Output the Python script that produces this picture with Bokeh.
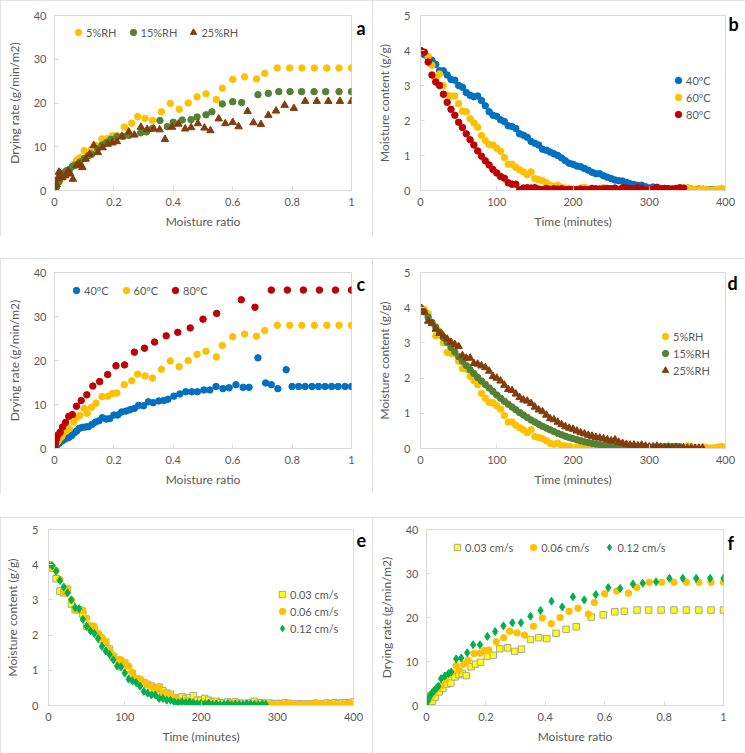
from bokeh.plotting import figure
from bokeh.layouts import column, row
from bokeh.models import Range1d, FixedTicker, Label, NumeralTickFormatter, Spacer
from bokeh.embed import file_html
from bokeh.resources import INLINE

# ---------------- data ----------------
# Drying rate vs moisture ratio
base_mr = [0.0, 0.003, 0.005, 0.01, 0.015, 0.02, 0.025, 0.03, 0.04, 0.045,
           0.05, 0.065, 0.075, 0.085, 0.10, 0.11, 0.125, 0.14, 0.16, 0.18,
           0.195, 0.21, 0.235, 0.26, 0.28, 0.305, 0.33, 0.36, 0.39, 0.42,
           0.45, 0.48, 0.51, 0.545, 0.565, 0.60, 0.64, 0.68, 0.708, 0.75,
           0.792, 0.833, 0.875, 0.917, 0.958, 1.0]
base_rate = [0.2, 1.0, 2.3, 1.5, 2.0, 2.5, 2.8, 3.5, 4.0, 4.4,
             4.5, 6.0, 7.0, 7.5, 9.1, 8.0, 9.4, 10.3, 11.8, 11.9,
             12.5, 12.6, 14.5, 15.4, 16.9, 16.5, 16.0, 18.0, 19.9, 18.6,
             20.0, 21.4, 22.1, 20.8, 23.4, 25.4, 26.0, 25.5, 26.8, 28.0,
             28.0, 28.0, 28.0, 28.0, 28.0, 28.0]

rh15_mr = [0.0, 0.003, 0.008, 0.015, 0.02, 0.03, 0.04, 0.05, 0.06, 0.07,
           0.085, 0.10, 0.115, 0.125, 0.145, 0.16, 0.175, 0.19, 0.21, 0.23,
           0.25, 0.29, 0.31, 0.33, 0.355, 0.38, 0.40, 0.43, 0.46, 0.48,
           0.51, 0.53, 0.565, 0.60, 0.63, 0.685, 0.72, 0.755, 0.793, 0.832,
           0.874, 0.913, 0.958, 1.0]
rh15_rate = [0.3, 1.4, 0.9, 2.0, 3.0, 4.0, 4.5, 4.8, 5.5, 5.8,
             6.5, 7.3, 8.0, 8.3, 9.5, 10.4, 11.0, 11.7, 12.3, 12.4,
             12.6, 13.2, 13.4, 14.2, 16.0, 14.6, 15.6, 16.1, 16.2, 16.8,
             17.3, 18.0, 19.8, 20.3, 20.1, 21.9, 22.2, 22.6, 22.6, 22.6,
             22.6, 22.6, 22.6, 22.6]

rh25_mr = [0.0, 0.002, 0.006, 0.01, 0.015, 0.02, 0.027, 0.036, 0.046, 0.053,
           0.062, 0.074, 0.084, 0.094, 0.105, 0.118, 0.132, 0.146, 0.162, 0.179,
           0.195, 0.21, 0.227, 0.25, 0.269, 0.291, 0.312, 0.334, 0.354, 0.372,
           0.396, 0.417, 0.44, 0.46, 0.483, 0.505, 0.525, 0.553, 0.575, 0.60,
           0.62, 0.65, 0.67, 0.695, 0.72, 0.746, 0.775, 0.806, 0.844, 0.883,
           0.922, 0.961, 1.0]
rh25_rate = [0.0, 0.5, 1.4, 2.7, 4.2, 3.8, 3.0, 3.4, 4.4, 3.8,
             2.6, 5.7, 6.0, 5.3, 7.2, 8.3, 10.3, 8.7, 9.8, 10.6,
             10.9, 11.2, 12.3, 13.4, 12.7, 14.5, 14.0, 14.1, 13.9, 11.7,
             14.5, 15.2, 14.1, 14.4, 15.3, 14.3, 13.7, 16.4, 15.3, 15.6,
             14.6, 18.1, 15.5, 15.1, 17.2, 18.2, 19.5, 18.8, 20.4, 20.4,
             20.4, 20.4, 20.4]

t40_mr = [0.0, 0.002, 0.004, 0.009, 0.016, 0.022, 0.03, 0.039, 0.048, 0.057,
          0.066, 0.075, 0.084, 0.094, 0.105, 0.115, 0.127, 0.138, 0.15, 0.161,
          0.174, 0.186, 0.2, 0.213, 0.226, 0.241, 0.254, 0.269, 0.283, 0.3,
          0.316, 0.332, 0.351, 0.368, 0.382, 0.402, 0.422, 0.442, 0.462, 0.481,
          0.503, 0.523, 0.544, 0.567, 0.588, 0.611, 0.635, 0.655, 0.685, 0.711,
          0.73, 0.752, 0.78, 0.8, 0.822, 0.844, 0.867, 0.889, 0.911, 0.933,
          0.955, 0.978, 1.0]
t40_rate = [0.0, 0.5, 2.2, 0.8, 1.2, 1.6, 1.9, 2.3, 2.5, 2.9,
            3.5, 4.0, 4.6, 4.8, 4.9, 5.0, 5.5, 6.0, 6.3, 7.0,
            6.7, 6.8, 7.6, 7.6, 8.3, 8.5, 8.8, 9.1, 9.8, 9.7,
            10.6, 10.4, 10.8, 10.9, 11.2, 11.9, 12.4, 12.9, 12.9, 12.9,
            13.3, 13.3, 14.1, 13.6, 13.8, 14.5, 13.9, 13.9, 20.6, 14.9,
            14.5, 13.6, 17.9, 14.1, 14.1, 14.1, 14.1, 14.1, 14.1, 14.1,
            14.1, 14.1, 14.1]

t80_mr = [0.0, 0.001, 0.003, 0.007, 0.012, 0.019, 0.027, 0.037, 0.048, 0.06,
          0.074, 0.09, 0.109, 0.129, 0.152, 0.179, 0.207, 0.236, 0.269, 0.303,
          0.337, 0.376, 0.415, 0.457, 0.5, 0.546, 0.629, 0.675, 0.73, 0.784,
          0.838, 0.892, 0.946, 1.0]
t80_rate = [0.2, 0.7, 1.3, 2.2, 3.1, 3.7, 4.9, 5.9, 7.3, 7.7,
            9.6, 10.9, 12.2, 14.2, 15.2, 16.8, 18.8, 19.0, 21.9, 22.8,
            24.2, 25.6, 26.4, 27.4, 29.4, 30.7, 33.8, 32.1, 36.0, 36.0,
            36.0, 36.0, 36.0, 36.0]

v03_mr = [0.0, 0.003, 0.008, 0.013, 0.02, 0.03, 0.043, 0.055, 0.069, 0.082,
          0.096, 0.109, 0.12, 0.134, 0.15, 0.165, 0.182, 0.205, 0.225, 0.247,
          0.273, 0.297, 0.32, 0.35, 0.378, 0.405, 0.436, 0.47, 0.504, 0.555,
          0.595, 0.634, 0.666, 0.709, 0.748, 0.79, 0.833, 0.875, 0.917, 0.958,
          1.0]
v03_rate = [0.2, 0.9, 1.2, 0.7, 1.0, 1.9, 3.1, 3.9, 4.9, 5.1,
            6.5, 7.0, 7.3, 6.8, 8.8, 9.4, 9.8, 11.2, 11.4, 12.9,
            13.1, 12.3, 12.8, 15.0, 15.4, 15.2, 16.4, 17.3, 17.9, 20.1,
            20.6, 21.3, 21.4, 21.7, 21.7, 21.7, 21.7, 21.7, 21.7, 21.7,
            21.7]

v12_mr = [0.0, 0.003, 0.008, 0.013, 0.019, 0.026, 0.033, 0.04, 0.049, 0.062,
          0.074, 0.083, 0.1, 0.117, 0.137, 0.157, 0.18, 0.205, 0.231, 0.259,
          0.289, 0.318, 0.35, 0.384, 0.421, 0.457, 0.493, 0.531, 0.57, 0.612,
          0.652, 0.695, 0.728, 0.773, 0.818, 0.863, 0.908, 0.955, 1.0]
v12_rate = [0.0, 0.9, 1.6, 2.4, 2.9, 3.4, 3.9, 4.4, 6.1, 6.7,
            7.3, 7.6, 10.6, 10.8, 12.0, 13.8, 13.8, 15.7, 16.8, 18.1,
            18.8, 18.8, 20.3, 21.6, 23.7, 22.4, 24.7, 24.0, 25.2, 26.8,
            26.6, 27.6, 27.8, 28.1, 28.9, 28.9, 28.9, 28.9, 28.9]

# Moisture content vs time (minutes), sampled every 5 min
time_min = [0, 5, 10, 15, 20, 25, 30, 35, 40, 45,
            50, 55, 60, 65, 70, 75, 80, 85, 90, 95,
            100, 105, 110, 115, 120, 125, 130, 135, 140, 145,
            150, 155, 160, 165, 170, 175, 180, 185, 190, 195,
            200, 205, 210, 215, 220, 225, 230, 235, 240, 245,
            250, 255, 260, 265, 270, 275, 280, 285, 290, 295,
            300, 305, 310, 315, 320, 325, 330, 335, 340, 345,
            350, 355, 360, 365, 370, 375, 380, 385, 390, 395,
            400]

mc_base = [4.0, 3.95, 3.83, 3.58, 3.2, 3.33, 3.0, 2.73, 2.7, 2.7,
           2.48, 2.27, 2.25, 2.05, 1.93, 1.81, 1.57, 1.43, 1.31, 1.3,
           1.21, 1.12, 0.94, 0.75, 0.75, 0.66, 0.59, 0.53, 0.45, 0.53,
           0.34, 0.31, 0.28, 0.22, 0.15, 0.12, 0.15, 0.09, 0.07, 0.06,
           0.03, 0.04, 0.07, 0.09, 0.05, 0.03, 0.02, 0.04, 0.08, 0.05,
           0.03, 0.03, 0.02, 0.05, 0.04, 0.02, 0.03, 0.05, 0.02, 0.03,
           0.02, 0.04, 0.03, 0.05, 0.03, 0.02, 0.03, 0.02, 0.03, 0.04,
           0.08, 0.05, 0.03, 0.02, 0.05, 0.03, 0.01, 0.02, 0.04, 0.06,
           0.02]

mc_40 = [4.0, 3.88, 3.8, 3.72, 3.6, 3.42, 3.42, 3.3, 3.17, 3.15,
         3.0, 2.95, 2.8, 2.72, 2.68, 2.7, 2.57, 2.42, 2.25, 2.15,
         2.12, 2.02, 1.97, 1.85, 1.83, 1.77, 1.62, 1.58, 1.52, 1.4,
         1.35, 1.3, 1.18, 1.15, 1.1, 1.05, 1.0, 0.93, 0.85, 0.78,
         0.75, 0.7, 0.68, 0.63, 0.58, 0.52, 0.48, 0.48, 0.42, 0.38,
         0.34, 0.3, 0.28, 0.27, 0.23, 0.19, 0.17, 0.15, 0.15, 0.11,
         0.07, 0.1, 0.08, 0.06, 0.05, 0.05, 0.04, 0.05, 0.04, 0.03,
         0.05, 0.04, 0.03, 0.04, 0.02, 0.03, 0.02, 0.03, 0.02, 0.02,
         0.01]

mc_80 = [4.0, 3.95, 3.67, 3.3, 3.1, 3.0, 2.75, 2.52, 2.32, 2.15,
         1.95, 1.8, 1.62, 1.45, 1.3, 1.13, 0.98, 0.85, 0.73, 0.6,
         0.5, 0.4, 0.35, 0.22, 0.18, 0.18, 0.02, 0.07, 0.08, 0.07,
         0.08, 0.04, 0.03, 0.06, 0.03, 0.05, 0.04, 0.05, 0.02, 0.03,
         0.03, 0.02, 0.04, 0.03, 0.02, 0.06, 0.05, 0.04, 0.05, 0.06,
         0.05, 0.07, 0.02, 0.08, 0.07, 0.06, 0.05, 0.08, 0.06, 0.03,
         0.02, 0.04, 0.09, 0.05, 0.06, 0.05, 0.04, 0.06, 0.08, 0.07]

mc_rh15 = [4.0, 3.88, 3.73, 3.58, 3.45, 3.3, 3.15, 3.01, 2.87, 2.74,
           2.61, 2.48, 2.36, 2.24, 2.13, 2.02, 1.92, 1.82, 1.72, 1.62,
           1.52, 1.43, 1.34, 1.26, 1.18, 1.1, 1.02, 0.95, 0.88, 0.81,
           0.75, 0.69, 0.63, 0.58, 0.53, 0.48, 0.43, 0.39, 0.35, 0.31,
           0.28, 0.25, 0.22, 0.19, 0.17, 0.15, 0.13, 0.11, 0.1, 0.09,
           0.08, 0.07, 0.06, 0.05, 0.05, 0.05, 0.04, 0.04, 0.04, 0.05,
           0.04, 0.04, 0.05, 0.04, 0.05, 0.06, 0.05, 0.06, 0.05]

mc_rh25 = [4.0, 3.88, 3.62, 3.55, 3.39, 3.27, 3.2, 3.11, 3.02, 2.96,
           2.9, 2.64, 2.57, 2.57, 2.42, 2.4, 2.35, 2.3, 2.2, 2.05,
           2.0, 1.92, 1.8, 1.68, 1.65, 1.55, 1.45, 1.38, 1.35, 1.28,
           1.18, 1.1, 1.05, 0.95, 0.85, 0.82, 0.75, 0.68, 0.62, 0.58,
           0.55, 0.5, 0.45, 0.42, 0.38, 0.35, 0.32, 0.3, 0.28, 0.25,
           0.22, 0.25, 0.18, 0.15, 0.12, 0.1, 0.1, 0.08, 0.1, 0.07,
           0.05, 0.05, 0.07, 0.04, 0.03, 0.04, 0.02, 0.03, 0.02, 0.02,
           0.01, 0.02, 0.01, 0.01, 0.01]

mc_v03 = [4.0, 3.9, 3.6, 3.25, 3.2, 3.28, 2.88, 2.72, 2.72, 2.6,
          2.25, 2.25, 2.15, 2.0, 1.88, 1.8, 1.6, 1.38, 1.3, 1.1,
          1.2, 1.05, 0.9, 0.75, 0.7, 0.65, 0.6, 0.55, 0.47, 0.52,
          0.42, 0.35, 0.32, 0.22, 0.2, 0.25, 0.2, 0.22, 0.28, 0.15,
          0.15, 0.2, 0.15, 0.1, 0.12, 0.08, 0.07, 0.1, 0.08, 0.1,
          0.07, 0.06, 0.05, 0.08, 0.12, 0.06, 0.08, 0.05, 0.07, 0.04,
          0.06, 0.05, 0.07, 0.06, 0.04, 0.03, 0.05, 0.04, 0.03, 0.05,
          0.06, 0.04, 0.03, 0.07, 0.05, 0.08, 0.06, 0.07, 0.08, 0.06,
          0.1]

mc_v12 = [4.0, 3.97, 3.82, 3.55, 3.37, 3.2, 3.0, 2.78, 2.75, 2.45,
          2.25, 2.12, 2.05, 1.9, 1.68, 1.55, 1.45, 1.3, 1.12, 1.1,
          0.92, 0.75, 0.7, 0.65, 0.55, 0.4, 0.35, 0.3, 0.3, 0.2,
          0.2, 0.15, 0.15, 0.1, 0.08, 0.1, 0.08, 0.1, 0.07, 0.05,
          0.06, 0.05, 0.07, 0.03, 0.04, 0.02, 0.03, 0.05, 0.02, 0.04,
          0.03, 0.02, 0.05, 0.04, 0.03, 0.02, 0.04, 0.03]

mr_ticks = [0, 0.2, 0.4, 0.6, 0.8, 1.0]
rate_ticks = [0, 10, 20, 30, 40]
time_ticks = [0, 100, 200, 300, 400]
mc_ticks = [0, 1, 2, 3, 4, 5]

# ---------------- styling ----------------
FONT = "Lato"
GRAY = "#595959"
LINE = "#D9D9D9"
YELLOW = "#FFC000"
GREEN = "#548235"
BROWN = "#843C0C"
BLUE = "#0070C0"
RED = "#C00000"
LGREEN = "#00B050"
SQ_FILL = "#FFFF00"
SQ_LINE = "#A5A5A5"
FH = 178  # frame height


def make_fig(w, h, top, left, right, kind):
    if kind == "rate":
        xr, yr, xt, yt = (0, 1), (0, 40), mr_ticks, rate_ticks
        xl, yl = "Moisture ratio", "Drying rate (g/min/m2)"
    else:
        xr, yr, xt, yt = (0, 400), (0, 5), time_ticks, mc_ticks
        xl, yl = "Time (minutes)", "Moisture content (g/g)"
    p = figure(width=w, height=h, x_range=Range1d(*xr), y_range=Range1d(*yr),
               output_backend="svg", toolbar_location=None,
               min_border_left=left, min_border_right=right,
               min_border_top=top, min_border_bottom=h - top - FH)
    p.styles = {"outline": "1px solid #D9D9D9", "outline-offset": "-1px"}
    p.xgrid.visible = False
    p.ygrid.visible = False
    p.outline_line_color = LINE
    p.outline_line_width = 1
    p.xaxis.ticker = FixedTicker(ticks=xt)
    p.yaxis.ticker = FixedTicker(ticks=yt)
    p.xaxis.formatter = NumeralTickFormatter(format="0.[0]")
    p.yaxis.formatter = NumeralTickFormatter(format="0")
    p.xaxis.axis_label = xl
    p.yaxis.axis_label = yl
    for ax in (p.xaxis[0], p.yaxis[0]):
        ax.axis_line_color = LINE
        ax.major_tick_line_color = LINE
        ax.major_tick_in = 4
        ax.major_tick_out = 0
        ax.minor_tick_line_color = None
        ax.major_label_text_font = FONT
        ax.major_label_text_font_size = "11px"
        ax.major_label_text_color = GRAY
        ax.axis_label_text_font = FONT
        ax.axis_label_text_font_size = "12px"
        ax.axis_label_text_color = GRAY
        ax.axis_label_text_font_style = "normal"
    p.xaxis.major_label_standoff = 7
    p.xaxis.axis_label_standoff = 5
    p.yaxis.major_label_standoff = 8 if kind == "rate" else 10
    p.yaxis.axis_label_standoff = 9
    return p


def style_legend(p, loc, horizontal, spacing):
    lg = p.legend[0]
    lg.location = loc
    lg.orientation = "horizontal" if horizontal else "vertical"
    lg.border_line_color = None
    lg.background_fill_alpha = 0
    lg.padding = 0
    lg.margin = 0
    lg.spacing = spacing
    lg.glyph_width = 16
    lg.glyph_height = 16
    lg.label_height = 16
    lg.label_standoff = 0
    lg.label_text_font = FONT
    lg.label_text_font_size = "11px"
    lg.label_text_color = GRAY


def letter(p, txt, dx, dy):
    # placed in the right side panel, just right of the frame top
    p.add_layout(Label(x=dx, y=FH - dy, x_units="screen", y_units="screen",
                       text=txt, text_font=FONT, text_font_size="18px",
                       text_font_style="bold", text_color="black",
                       text_baseline="alphabetic", text_align="left"), "right")


def circ(p, x, y, color, label, size=6.5):
    p.scatter(x, y, marker="circle", size=size, fill_color=color,
              line_color=color, legend_label=label)


# ---- panel a ----
pa = make_fig(372, 236, 12, 54, 21, "rate")
circ(pa, base_mr, base_rate, YELLOW, "5%RH")
circ(pa, rh15_mr, rh15_rate, GREEN, "15%RH")
pa.scatter(rh25_mr, rh25_rate, marker="triangle", size=7.5, fill_color=BROWN,
           line_color=BROWN, legend_label="25%RH")
style_legend(pa, (16, FH - 12 - 16), True, 8)
letter(pa, "a", 5, 15)

# ---- panel b ----
pb = make_fig(373, 236, 15, 48, 20, "time")
circ(pb, time_min[:len(mc_40)], mc_40, BLUE, "40ºC")
circ(pb, time_min[:len(mc_base)], mc_base, YELLOW, "60ºC")
circ(pb, time_min[:len(mc_80)], mc_80, RED, "80ºC")
style_legend(pb, (250, FH - 60 - 50), False, 1)
letter(pb, "b", 3, 11)

# ---- panel c ----
pc = make_fig(372, 235, 12, 54, 21, "rate")
circ(pc, t40_mr, t40_rate, BLUE, "40ºC")
circ(pc, base_mr, base_rate, YELLOW, "60ºC")
circ(pc, t80_mr, t80_rate, RED, "80ºC")
style_legend(pc, (14, FH - 12 - 16), True, 9)
letter(pc, "c", 5, 13)

# ---- panel d ----
pd_ = make_fig(373, 235, 14, 48, 20, "time")
circ(pd_, time_min[:len(mc_base)], mc_base, YELLOW, "5%RH")
circ(pd_, time_min[:len(mc_rh15)], mc_rh15, GREEN, "15%RH")
pd_.scatter(time_min[:len(mc_rh25)], mc_rh25, marker="triangle", size=7.5,
            fill_color=BROWN, line_color=BROWN, legend_label="25%RH")
style_legend(pd_, (237, FH - 58 - 50), False, 1)
letter(pd_, "d", 2, 12)

# ---- panel e ----
pe = make_fig(372, 236, 12, 48, 19, "time")
pe.scatter(time_min[:len(mc_v03)], mc_v03, marker="square", size=6.5,
           fill_color=SQ_FILL, line_color=SQ_LINE, line_width=1,
           legend_label="0.03 cm/s")
circ(pe, time_min[:len(mc_base)], mc_base, YELLOW, "0.06 cm/s")
pe.scatter(time_min[:len(mc_v12)], mc_v12, marker="diamond", size=8,
           fill_color=LGREEN, line_color=LGREEN, legend_label="0.12 cm/s")
style_legend(pe, (226, FH - 59 - 50), False, 1)
letter(pe, "e", 3, 12)

# ---- panel f ----
pf = make_fig(373, 236, 10, 54, 22, "rate")
pf.scatter(v03_mr, v03_rate, marker="square", size=6.5, fill_color=SQ_FILL,
           line_color=SQ_LINE, line_width=1, legend_label="0.03 cm/s")
circ(pf, base_mr, base_rate, YELLOW, "0.06 cm/s")
pf.scatter(v12_mr, v12_rate, marker="diamond", size=8, fill_color=LGREEN,
           line_color=LGREEN, legend_label="0.12 cm/s")
style_legend(pf, (23, FH - 12 - 16), True, 12)
letter(pf, "f", 4, 15)

layout = column(row(pa, pb), Spacer(height=22), row(pc, pd_),
                Spacer(height=24), row(pe, pf))

open("out.html", "w").write(file_html(layout, INLINE))
